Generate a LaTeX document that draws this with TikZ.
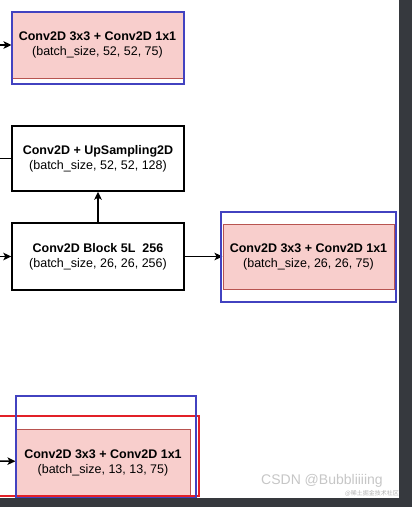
\documentclass[tikz,border=0pt]{standalone}
\usepackage{fontspec}
\setmainfont{Liberation Sans}
\newfontfamily\cjkfont{Noto Sans CJK SC}
\definecolor{headFill}{RGB}{248, 206, 204}
\definecolor{headLine}{RGB}{184, 84, 80}
\definecolor{markBlue}{RGB}{66, 66, 192}
\definecolor{markRed}{RGB}{226, 32, 40}
\definecolor{frameDark}{RGB}{54, 57, 62}
\usetikzlibrary{arrows.meta, positioning}

\tikzset{
    layer/.style={draw=black, line width=1.4pt, fill=white, align=center,
        minimum width=172pt, minimum height=66pt, inner sep=0pt,
        font=\fontsize{12.5}{15}\selectfont},
    headbox/.style={layer, draw=headLine, fill=headFill, line width=1pt},
    flow/.style={line width=1.5pt, -{Stealth[length=8pt, width=7.5pt, inset=2pt]}},
    markbox/.style={draw=markBlue, line width=2.6pt},
}

\begin{document}
\begin{tikzpicture}[x=1pt, y=-1pt]
        \useasboundingbox (0,0) rectangle (412,507);

        % 52x52 head
        \node[headbox, minimum width=171pt] (head52) at (97.5,45)
            {\textbf{Conv2D 3x3 + Conv2D 1x1}\\(batch\_size, 52, 52, 75)};
        \coordinate (in52) at (0,45);
        \draw[flow] (in52) -- (head52);
        \draw[markbox] (12,12) rectangle (184,84);

        % 26x26 branch
        \node[layer, minimum height=65pt] (upsamp) at (98,158.5)
            {\textbf{Conv2D + UpSampling2D}\\(batch\_size, 52, 52, 128)};
        \node[layer, minimum height=67pt] (block26) at (98,256.5)
            {\textbf{Conv2D Block 5L~~256}\\(batch\_size, 26, 26, 256)};
        \node[headbox, minimum width=171pt, minimum height=65pt] (head26) at (308.5,256.5)
            {\textbf{Conv2D 3x3 + Conv2D 1x1}\\(batch\_size, 26, 26, 75)};
        \coordinate (outUp) at (0,158.5);
        \coordinate (in26) at (0,256.5);
        \draw[line width=1.5pt] (upsamp) -- (outUp);
        \draw[flow] (in26) -- (block26);
        \draw[flow] (block26) -- (upsamp);
        \draw[flow] (block26) -- (head26);
        \draw[markbox] (221,212) rectangle (396,302);

        % 13x13 head
        \node[headbox, minimum width=174pt, minimum height=67pt] (head13) at (103,462.5)
            {\textbf{Conv2D 3x3 + Conv2D 1x1}\\(batch\_size, 13, 13, 75)};
        \coordinate (in13) at (0,461);
        \draw[flow] (in13) -- (head13);
        \draw[draw=markRed, line width=2.4pt] (-3,416) rectangle (199,496);
        \draw[markbox] (16,396) rectangle (196,498);

        % screenshot frame and watermark
        \fill[frameDark] (399,0) rectangle (412,507);
        \fill[frameDark] (0,498) rectangle (412,507);
        \node[font=\fontsize{14}{14}\selectfont, text=gray!45, inner sep=0pt] at (322,481) {CSDN @Bubbliiiing};
        \node[font=\cjkfont\fontsize{6}{6}\selectfont, text=gray!60, anchor=east, inner sep=0pt] at (399,493) {@稀土掘金技术社区};
    \end{tikzpicture}
\end{document}
